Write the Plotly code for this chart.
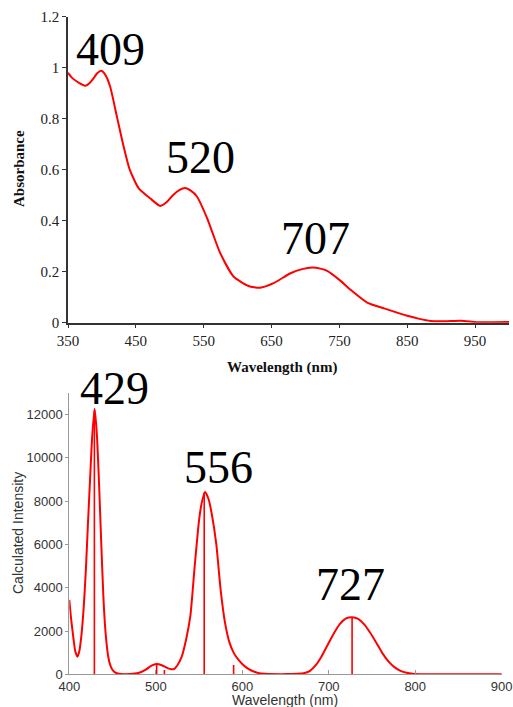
import plotly.graph_objects as go

# ---- Top panel: absorbance spectrum ----
abs_wavelength = [350, 356, 363, 370, 376, 382, 387, 393, 399, 405, 412, 422, 432, 441, 454,
                  471, 486, 496, 505, 514, 523, 531, 540, 555, 562, 574, 594, 616,
                  633, 653, 678, 695, 710, 722, 732, 750, 767, 791, 816, 850, 868, 884, 905,
                  929, 953, 975, 1000]
absorbance = [0.98, 0.96, 0.946, 0.935, 0.929, 0.94, 0.956, 0.978, 0.988, 0.972, 0.927, 0.809,
              0.691, 0.60, 0.528, 0.488, 0.458, 0.474, 0.501, 0.52, 0.528, 0.518,
              0.495, 0.41, 0.36, 0.275, 0.181, 0.144, 0.137, 0.155, 0.194, 0.21, 0.216, 0.212,
              0.203, 0.168, 0.128, 0.079, 0.056, 0.027, 0.015, 0.007, 0.006, 0.008, 0.002,
              0.002, 0.003]
abs_peak_labels = ["409", "520", "707"]
abs_x_ticks = [350, 450, 550, 650, 750, 850, 950]
abs_y_ticks = [0, 0.2, 0.4, 0.6, 0.8, 1, 1.2]
abs_y_ticklabels = ["0", "0.2", "0.4", "0.6", "0.8", "1", "1.2"]

# ---- Bottom panel: calculated spectrum ----
calc_wavelength = [400, 402, 404.5, 407, 409.3, 411.5, 414, 416.5, 419, 421.5, 424, 426.5,
                   429.3, 432, 434.5, 437, 439.5, 442, 445, 448, 451, 455, 460, 470, 480,
                   488, 495, 501, 507, 513, 518, 521, 525, 530, 535, 540, 545, 550, 553,
                   557, 561, 565, 570, 575, 580, 585, 590, 595, 600, 607, 614, 620, 630,
                   645, 657, 664, 671, 678, 685, 692, 699, 706, 713, 720, 727, 734, 741,
                   748, 755, 762, 769, 776, 783, 790, 797, 805, 820, 860, 900]
calc_intensity = [3440, 2600, 1750, 1050, 815, 1050, 1800, 3000, 4700, 6900, 9000, 11000,
                  12270, 11000, 8700, 6000, 3500, 1900, 815, 350, 150, 46, 10, 10, 60,
                  200, 400, 477, 420, 300, 235, 240, 420, 815, 1600, 2700, 5000, 7100, 7900,
                  8426, 8100, 7350, 6000, 3900, 2400, 1500, 1000, 700, 480, 250, 120, 46, 15,
                  8, 10, 20, 50, 150, 420, 850, 1380, 1900, 2330, 2580, 2640, 2560, 2310,
                  1920, 1460, 980, 600, 330, 160, 70, 25, 8, 5, 5, 5]
stick_wavelength = [429, 501, 510, 556, 590, 727]
stick_intensity = [12200, 470, 200, 8400, 430, 2640]
calc_peak_labels = ["429", "556", "727"]
calc_x_ticks = [400, 500, 600, 700, 800, 900]
calc_y_ticks = [0, 2000, 4000, 6000, 8000, 10000, 12000]
calc_y_ticklabels = ["0", "2000", "4000", "6000", "8000", "10000", "12000"]

W, H = 513, 707
RED = "#ff0000"
SERIF = "Liberation Serif, Times New Roman, serif"
SANS = "Liberation Sans, Arial, Helvetica, sans-serif"


def fx(x):
    return x / W


def fy(y):
    return 1 - y / H


fig = go.Figure()
fig.add_trace(go.Scatter(x=abs_wavelength, y=absorbance, mode="lines",
                         line=dict(color=RED, width=2, shape="spline", smoothing=0.6),
                         xaxis="x", yaxis="y", showlegend=False, hoverinfo="skip"))

sx, sy = [], []
for w, v in zip(stick_wavelength, stick_intensity):
    sx += [w, w, None]
    sy += [0, v, None]
fig.add_trace(go.Scatter(x=sx, y=sy, mode="lines", line=dict(color=RED, width=1.6),
                         xaxis="x2", yaxis="y2", showlegend=False, hoverinfo="skip"))
fig.add_trace(go.Scatter(x=calc_wavelength, y=calc_intensity, mode="lines",
                         line=dict(color=RED, width=2, shape="spline", smoothing=0.6),
                         xaxis="x2", yaxis="y2", showlegend=False, hoverinfo="skip"))

annotations = []
for t, (x, y) in zip(abs_peak_labels + calc_peak_labels,
                     [(110, 49), (200, 158), (315, 238), (114, 388), (218, 467), (350, 584)]):
    annotations.append(dict(text=t, x=fx(x), y=fy(y), xref="paper", yref="paper",
                            showarrow=False, xanchor="center", yanchor="middle",
                            font=dict(family=SERIF, size=46, color="#000")))

titles = [
    ("<b>Absorbance</b>", 19, 169, -90, SERIF, 15, "#111"),
    ("<b>Wavelength (nm)</b>", 282, 367, 0, SERIF, 15, "#111"),
    ("Calculated Intensity", 18, 533, -90, SANS, 14, "#333"),
    ("Wavelength (nm)", 285, 700, 0, SANS, 14, "#333"),
]
for t, x, y, ang, fam, sz, col in titles:
    annotations.append(dict(text=t, x=fx(x), y=fy(y), xref="paper", yref="paper",
                            showarrow=False, xanchor="center", yanchor="middle", textangle=ang,
                            font=dict(family=fam, size=sz, color=col)))

fig.update_layout(
    width=W, height=H, margin=dict(l=0, r=0, t=0, b=0, autoexpand=False),
    paper_bgcolor="white", plot_bgcolor="white",
    annotations=annotations,
    xaxis=dict(domain=[fx(68), fx(509)], range=[350, 1000], anchor="y", automargin=False,
               tickvals=abs_x_ticks, ticks="outside", ticklen=4, tickcolor="#333",
               showline=True, linecolor="#333", linewidth=1.5, showgrid=False, zeroline=False,
               tickfont=dict(family=SERIF, size=15, color="#222")),
    yaxis=dict(domain=[fy(322.7), fy(16.7)], range=[0, 1.2], anchor="x", automargin=False,
               tickvals=abs_y_ticks, ticktext=abs_y_ticklabels, ticks="outside", ticklen=4,
               tickcolor="#333", showline=True, linecolor="#333", linewidth=1.5,
               showgrid=False, zeroline=False,
               tickfont=dict(family=SERIF, size=15, color="#222")),
    xaxis2=dict(domain=[fx(69.3), fx(501.7)], range=[400, 900], anchor="y2", automargin=False,
                tickvals=calc_x_ticks, ticks="inside", ticklen=4, tickcolor="#999",
                showline=True, linecolor="#999", linewidth=1, showgrid=False, zeroline=False,
                tickfont=dict(family=SANS, size=13, color="#333")),
    yaxis2=dict(domain=[fy(674.3), fy(393)], range=[0, 13000], anchor="x2", automargin=False,
                tickvals=calc_y_ticks, ticktext=calc_y_ticklabels, ticks="outside", ticklen=3,
                tickcolor="#999", showline=True, linecolor="#999", linewidth=1,
                showgrid=False, zeroline=False,
                tickfont=dict(family=SANS, size=13, color="#333")),
)

fig.write_html(
    "out.html",
    config={"displayModeBar": False},
    post_script=("document.body.style.margin='0px';"
                 "document.body.style.overflow='hidden';"
                 "document.documentElement.style.overflow='hidden';"),
)
